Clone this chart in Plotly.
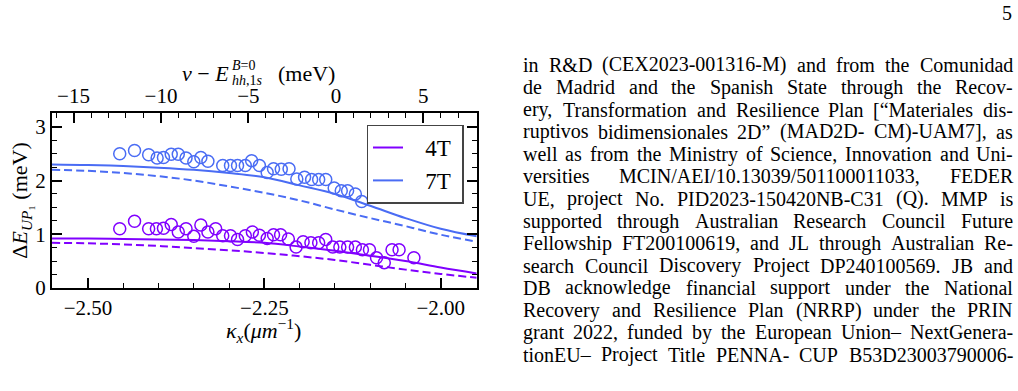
import plotly.graph_objects as go

W, H = 1018, 391
FONT = "Liberation Serif"

# ---------------- data ----------------
kappa_4T = [-2.455, -2.434, -2.414, -2.403, -2.393, -2.382, -2.372, -2.361, -2.350, -2.340,
            -2.330, -2.319, -2.309, -2.298, -2.288, -2.277, -2.267, -2.257, -2.246, -2.237,
            -2.227, -2.216, -2.205, -2.195, -2.184, -2.173, -2.163, -2.153, -2.143, -2.132,
            -2.121, -2.111, -2.101, -2.091, -2.080, -2.069, -2.059, -2.038]
dE_4T = [1.10, 1.24, 1.10, 1.10, 1.11, 1.18, 1.04, 1.10, 0.96, 1.17,
         1.04, 1.10, 0.97, 0.97, 0.90, 0.97, 1.04, 0.98, 0.92, 0.99,
         0.99, 0.91, 0.76, 0.86, 0.84, 0.84, 0.90, 0.76, 0.76, 0.76,
         0.76, 0.71, 0.71, 0.56, 0.47, 0.71, 0.71, 0.56]

kappa_7T = [-2.455, -2.434, -2.414, -2.402, -2.393, -2.382, -2.372, -2.361, -2.350, -2.340,
            -2.330, -2.309, -2.298, -2.288, -2.277, -2.268, -2.257, -2.246, -2.237, -2.226,
            -2.215, -2.204, -2.193, -2.183, -2.173, -2.163, -2.151, -2.141, -2.132, -2.121,
            -2.112]
dE_7T = [2.50, 2.56, 2.48, 2.42, 2.43, 2.49, 2.49, 2.42, 2.35, 2.43,
         2.36, 2.28, 2.28, 2.28, 2.28, 2.37, 2.28, 2.15, 2.22, 2.21,
         2.22, 2.03, 2.06, 2.02, 2.02, 2.02, 1.86, 1.81, 1.81, 1.75,
         1.61]

kappa_model = [-2.551, -2.50, -2.45, -2.40, -2.35, -2.30, -2.25, -2.20, -2.15, -2.10, -2.05, -2.00, -1.949]
model_4T_solid = [0.92, 0.92, 0.91, 0.90, 0.89, 0.87, 0.84, 0.77, 0.69, 0.60, 0.50, 0.38, 0.27]
model_4T_dashed = [0.84, 0.83, 0.81, 0.78, 0.74, 0.70, 0.65, 0.59, 0.52, 0.43, 0.34, 0.26, 0.19]
model_7T_solid = [2.30, 2.29, 2.27, 2.24, 2.20, 2.14, 2.06, 1.91, 1.75, 1.53, 1.30, 1.10, 0.96]
model_7T_dashed = [2.20, 2.18, 2.14, 2.08, 2.00, 1.89, 1.77, 1.63, 1.46, 1.30, 1.15, 0.99, 0.86]

series_names = ["4T", "7T"]
series_colors = ["#8000FF", "#4A6CF4"]

x_range = [-2.551, -1.949]
x_top_range = [-16.23, 8.05]
y_range = [0, 3.25]

bottom_ticks = [-2.50, -2.25, -2.00]
top_ticks = [-15, -10, -5, 0, 5]
y_ticks = [0, 1, 2, 3]

body_lines = [
    "in R&D (CEX2023-001316-M) and from the Comunidad",
    "de Madrid and the Spanish State through the Recov-",
    "ery, Transformation and Resilience Plan [“Materiales dis-",
    "ruptivos bidimensionales 2D” (MAD2D- CM)-UAM7], as",
    "well as from the Ministry of Science, Innovation and Uni-",
    "versities MCIN/AEI/10.13039/501100011033, FEDER",
    "UE, project No. PID2023-150420NB-C31 (Q). MMP is",
    "supported through Australian Research Council Future",
    "Fellowship FT200100619, and JL through Australian Re-",
    "search Council Discovery Project DP240100569. JB and",
    "DB acknowledge financial support under the National",
    "Recovery and Resilience Plan (NRRP) under the PRIN",
    "grant 2022, funded by the European Union– NextGenera-",
    "tionEU– Project Title PENNA- CUP B53D23003790006-",
]
page_number = "5"

# ---------------- layout geometry (pixels) ----------------
PL, PR, PT, PB = 52, 476.7, 117, 297

fig = go.Figure()

data_sets = [(kappa_4T, dE_4T, model_4T_solid, model_4T_dashed),
             (kappa_7T, dE_7T, model_7T_solid, model_7T_dashed)]

NBSP = "\u00a0"
for name, col, (kx, ky, ms, md) in zip(series_names, series_colors, data_sets):
    fig.add_trace(go.Scatter(x=kappa_model, y=ms, mode="lines", name=NBSP * 3 + name + NBSP,
                             line=dict(color=col, width=2, shape="spline")))
    fig.add_trace(go.Scatter(x=kappa_model, y=md, mode="lines", showlegend=False,
                             line=dict(color=col, width=2, dash="8px,4px", shape="spline")))
    fig.add_trace(go.Scatter(x=kx, y=ky, mode="markers", showlegend=False,
                             marker=dict(symbol="circle-open", size=12, color=col,
                                         line=dict(width=1.5, color=col))))

tickfont = dict(family=FONT, size=21, color="black")

fig.update_layout(
    width=W, height=H,
    margin=dict(l=0, r=0, t=0, b=0),
    paper_bgcolor="white", plot_bgcolor="white",
    font=dict(family=FONT, color="black"),
    xaxis=dict(domain=[PL / W, PR / W], range=x_range, tickvals=bottom_ticks,
               tickformat=".2f", ticks="inside", ticklen=10, tickwidth=2,
               tickcolor="black", showline=True, linecolor="black", linewidth=2,
               mirror=True, showgrid=False, zeroline=False, tickfont=tickfont,
               minor=dict(dtick=0.05, tick0=-2.5, ticks="inside", ticklen=5,
                          tickwidth=1.3, tickcolor="black", showgrid=False)),
    xaxis2=dict(overlaying="x", side="top", anchor="y", range=x_top_range,
                tickvals=top_ticks, ticks="inside", ticklen=10, tickwidth=2,
                tickcolor="black", showline=True, linecolor="black", linewidth=2,
                showgrid=False, zeroline=False, tickfont=tickfont,
                minor=dict(dtick=1, tick0=0, ticks="inside", ticklen=5,
                           tickwidth=1.3, tickcolor="black", showgrid=False)),
    yaxis=dict(domain=[1 - PB / H, 1 - PT / H], range=y_range, tickvals=y_ticks,
               ticks="inside", ticklen=10, tickwidth=2, tickcolor="black",
               showline=True, linecolor="black", linewidth=2, mirror="ticks",
               showgrid=False, zeroline=False, tickfont=tickfont,
               minor=dict(dtick=0.25, tick0=0, ticks="inside", ticklen=5,
                          tickwidth=1.3, tickcolor="black", showgrid=False)),
    legend=dict(x=463.5 / W, xanchor="right", y=1 - 128.5 / H, yanchor="top",
                bgcolor="white", bordercolor="#444", borderwidth=1.5,
                font=dict(family=FONT, size=23, color="black"),
                itemwidth=30, tracegroupgap=0),
    showlegend=True,
)

# dummy trace to attach the top axis
fig.add_trace(go.Scatter(x=top_ticks, y=[None] * len(top_ticks), xaxis="x2",
                         mode="lines", showlegend=False, hoverinfo="skip"))


def ann(text, px, py, size, xanchor="center", yanchor="middle", angle=0):
    return dict(text=text, x=px / W, y=1 - py / H, xref="paper", yref="paper",
                showarrow=False, xanchor=xanchor, yanchor=yanchor, textangle=angle,
                borderpad=0, font=dict(family=FONT, size=size, color="black"))


anns = []
# axis titles
anns.append(ann("<i>κ<sub>x</sub></i>(<i>μm</i><sup>−1</sup>)", 263, 341, 22))
anns.append(ann("Δ<i>E</i><sub><i>UP</i>₁</sub> (meV)", 21, 207, 22, angle=-90))
anns.append(ann("<i>ν</i> − <i>E</i>", 230, 76, 22, xanchor="right"))
anns.append(ann("<i>B</i>=0", 231, 68, 14, xanchor="left"))
anns.append(ann("<i>hh</i>,1<i>s</i>", 231, 83, 14, xanchor="left"))
anns.append(ann("(meV)", 277, 76, 22, xanchor="left"))
anns.append(ann(page_number, 1007, 13, 20))

# justified body text (Times metrics for word widths)
TW = {' ': 250, '&': 778, '(': 333, ')': 333, '-': 333, ',': 250, '.': 250, '[': 333,
      ']': 333, '“': 444, '”': 444, '/': 278, ':': 278, '–': 500, "'": 180}
lower = dict(zip("abcdefghijklmnopqrstuvwxyz",
                 [444, 500, 444, 500, 444, 333, 500, 500, 278, 278, 500, 278, 778, 500, 500,
                  500, 500, 333, 389, 278, 500, 500, 722, 500, 500, 444]))
upper = dict(zip("ABCDEFGHIJKLMNOPQRSTUVWXYZ",
                 [722, 667, 667, 722, 611, 556, 722, 722, 333, 389, 722, 611, 889, 722, 722,
                  556, 722, 667, 556, 611, 722, 722, 944, 722, 722, 611]))
TW.update(lower)
TW.update(upper)
for d in "0123456789":
    TW[d] = 500

BODY_SIZE = 20
X_LEFT, X_RIGHT = 522, 1012
for i, line in enumerate(body_lines):
    words = line.split(" ")
    widths = [sum(TW.get(c, 500) for c in w) * BODY_SIZE / 1000 for w in words]
    gap = (X_RIGHT - X_LEFT - sum(widths)) / (len(words) - 1)
    x = X_LEFT
    py = 67 + 23 * i
    for w, wd in zip(words, widths):
        anns.append(ann(w.replace("&", "&amp;"), x, py, BODY_SIZE, xanchor="left"))
        x += wd + gap

fig.update_layout(annotations=anns)

fig.write_html("out.html")
